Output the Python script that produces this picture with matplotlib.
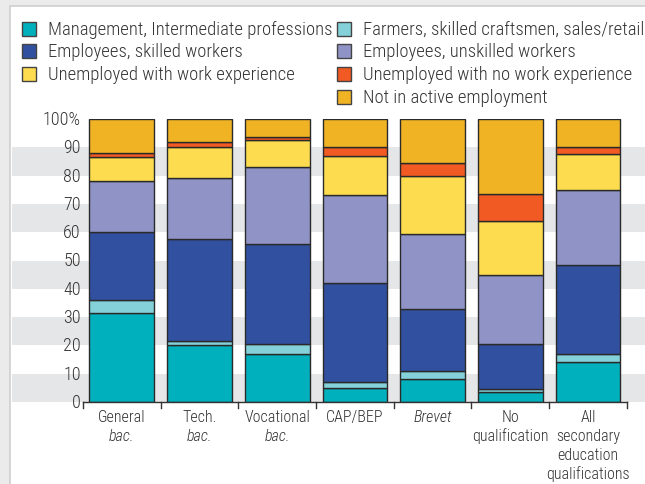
import matplotlib
matplotlib.use('Agg')
import matplotlib.pyplot as plt
import numpy as np
from matplotlib.patches import Rectangle

plt.rcParams['font.family'] = ['Roboto Condensed', 'DejaVu Sans']

# qualification groups, one list per label line
label_lines = [['General', 'bac.'],
               ['Tech.', 'bac.'],
               ['Vocational', 'bac.'],
               ['CAP/BEP'],
               ['Brevet'],
               ['No', 'qualification'],
               ['All', 'secondary', 'education', 'qualifications']]
italic_lines = [[False, True], [False, True], [False, True], [False], [True],
                [False, False], [False, False, False, False]]

series = ['Management, Intermediate professions',
          'Farmers, skilled craftsmen, sales/retail',
          'Employees, skilled workers',
          'Employees, unskilled workers',
          'Unemployed with work experience',
          'Unemployed with no work experience',
          'Not in active employment']
colors = ['#00b0bd', '#84d1da', '#3150a0', '#8f93c6', '#fddd4f', '#f15a22', '#f0b323']

# % per group, bottom to top
management = [31.5, 20.0, 17.0, 5.0, 8.0, 3.5, 14.0]
farmers = [4.5, 1.5, 3.5, 2.0, 3.0, 1.0, 3.0]
skilled = [24.0, 36.0, 35.5, 35.0, 22.0, 16.0, 31.5]
unskilled = [18.0, 21.5, 27.0, 31.0, 26.5, 24.5, 26.5]
unemp_exp = [8.5, 11.0, 9.5, 14.0, 20.5, 19.0, 12.5]
unemp_noexp = [1.5, 2.0, 1.0, 3.0, 4.5, 9.5, 2.5]
not_active = [12.0, 8.0, 6.5, 10.0, 15.5, 26.5, 10.0]

values = [management, farmers, skilled, unskilled, unemp_exp, unemp_noexp, not_active]

W, H = 645, 485
fig = plt.figure(figsize=(W / 100, H / 100), dpi=100)
fig.patch.set_facecolor('#ebebeb')

# white panel with a thin grey frame
panel = Rectangle((10 / W, -0.01), 1, 1 - 7 / H + 0.01, transform=fig.transFigure,
                  facecolor='white', edgecolor='#cfcfcf', linewidth=1.2, zorder=-5)
fig.patches.append(panel)

# axes covers the whole panel width so the grey bands run edge to edge
ax = fig.add_axes([12 / W, (H - 403) / H, (W - 12) / W, 283 / H])
ax.set_facecolor('none')
unit = 77.7
left = -(121.9 - 12) / unit
right = 6 + (W - 588.0) / unit
ax.set_xlim(left, right)
ax.set_ylim(0, 100)
for s in ax.spines.values():
    s.set_visible(False)
ax.set_xticks([])
ax.set_yticks([])

for y0 in range(0, 100, 20):
    ax.axhspan(y0, y0 + 10, color='#e5e6e8', zorder=0, linewidth=0)

n = len(label_lines)
x = np.arange(n)
bottom = np.zeros(n)
for vals, c in zip(values, colors):
    ax.bar(x, vals, bottom=bottom, width=0.835, color=c, edgecolor='#2a2a2a',
           linewidth=1.0, zorder=2)
    bottom += np.array(vals)

# x axis line with boundary ticks
ax.plot([-0.5, n - 0.5], [0, 0], color='#333333', lw=1.0, clip_on=False, zorder=3)
for b in np.arange(-0.5, n, 1.0):
    ax.plot([b, b], [0, -2.0], color='#333333', lw=1.0, clip_on=False, zorder=3)

tc = '#333333'
wt = 'light'
for v in range(0, 101, 10):
    lab = '100%' if v == 100 else str(v)
    ax.text(left + (81 - 12) / unit, v, lab, ha='right', va='center',
            fontsize=13, color=tc, fontweight=wt)

pitch = 19 / 2.83
for i in range(n):
    for j, (txt, it) in enumerate(zip(label_lines[i], italic_lines[i])):
        ax.text(i, -2.3 - j * pitch, txt, ha='center', va='top', fontsize=11.5,
                color=tc, style='italic' if it else 'normal', fontweight=wt)

# legend: 3 entries in the first column, 4 in the second
cols = [(22, [0, 2, 4]), (337, [1, 3, 5, 6])]
rows = [30, 52, 75, 98]
for x0, idx in cols:
    for r, k in enumerate(idx):
        yc = rows[r]
        fig.patches.append(Rectangle((x0 / W, 1 - (yc + 7) / H), 14 / W, 14 / H,
                                     transform=fig.transFigure, facecolor=colors[k],
                                     edgecolor='#444444', linewidth=1.0))
        fig.text((x0 + 26) / W, 1 - yc / H, series[k], ha='left', va='center',
                 fontsize=13.4, color=tc, fontweight=wt)

fig.savefig('out.png', dpi=100, facecolor=fig.get_facecolor())
